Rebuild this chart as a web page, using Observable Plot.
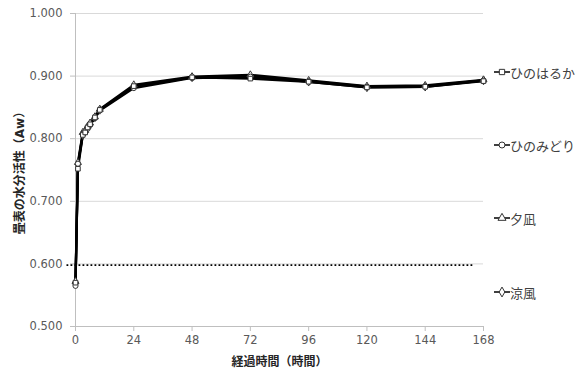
<!DOCTYPE html>
<html>
<head>
<meta charset="utf-8">
<script src="https://cdn.jsdelivr.net/npm/d3@7"></script>
<script src="https://cdn.jsdelivr.net/npm/@observablehq/plot@0.6"></script>
<style>
  body { margin: 0; background: #fff; }
  #wrap { position: relative; width: 576px; height: 374px; font-family: "DejaVu Sans", "Noto Sans CJK JP", sans-serif; }
  #wrap svg.plot [aria-label="y-axis label"], #wrap svg.plot [aria-label="x-axis label"] { font-weight: bold; fill: #262626; font-size: 12px; }
  #legend { position: absolute; left: 494px; top: 0; }
  .item { position: absolute; left: 0; display: flex; align-items: center; white-space: nowrap;
          font-family: "Noto Sans CJK JP", sans-serif; font-size: 13px; color: #404040; }
</style>
</head>
<body>
<div id="wrap"></div>
<script>
// Elapsed time (hours) at which water activity was measured
const hours = [0, 1, 3, 4, 5, 6, 8, 10, 24, 48, 72, 96, 120, 144, 168];

// Surface water activity (Aw) of tatami mats, by rush variety
const varieties = ["ひのはるか", "ひのみどり", "夕凪", "涼風"];
const hinoharuka = [0.570, 0.752, 0.806, 0.810, 0.818, 0.823, 0.834, 0.846, 0.884, 0.898, 0.896, 0.891, 0.882, 0.883, 0.892];
const hinomidori = [0.565, 0.760, 0.808, 0.812, 0.816, 0.822, 0.833, 0.845, 0.881, 0.897, 0.899, 0.892, 0.883, 0.884, 0.893];
const yunagi     = [0.572, 0.762, 0.810, 0.813, 0.820, 0.825, 0.835, 0.847, 0.886, 0.899, 0.902, 0.893, 0.884, 0.885, 0.894];
const suzukaze   = [0.568, 0.758, 0.806, 0.811, 0.817, 0.823, 0.834, 0.846, 0.883, 0.898, 0.900, 0.891, 0.882, 0.883, 0.893];
const series = [hinoharuka, hinomidori, yunagi, suzukaze];

// Reference level (dotted) and its horizontal extent in hours
const threshold = [0.598];
const thresholdSpan = [-3.5, 164];

const xTicks = [0, 24, 48, 72, 96, 120, 144, 168];
const yTicks = [0.5, 0.6, 0.7, 0.8, 0.9, 1.0];

const symbols = ["square", "circle", "triangle", "diamond"];
const d3Symbols = [d3.symbolSquare, d3.symbolCircle, d3.symbolTriangle, d3.symbolDiamond];

const rows = varieties.flatMap((v, i) => hours.map((h, j) => ({variety: v, hour: h, aw: series[i][j]})));
const byVariety = v => rows.filter(d => d.variety === v);

const chart = Plot.plot({
  width: 576,
  height: 374,
  marginLeft: 75,
  marginRight: 93,
  marginTop: 13,
  marginBottom: 48,
  style: {fontFamily: '"DejaVu Sans", "Noto Sans CJK JP", sans-serif', fontSize: "11.5px", color: "#595959", background: "white"},
  x: {domain: [0, 168]},
  y: {domain: [0.5, 1.0]},
  symbol: {domain: varieties, range: symbols},
  marks: [
    Plot.gridY(yTicks.slice(1), {stroke: "#d9d9d9", strokeOpacity: 1}),
    Plot.ruleX([0], {stroke: "#bfbfbf"}),
    Plot.ruleY([0.5], {stroke: "#bfbfbf"}),
    Plot.axisY({ticks: yTicks, tickFormat: ".3f", tickSize: 5, tickPadding: 8, stroke: "#bfbfbf",
                label: "畳表の水分活性（Aw）", labelAnchor: "center", labelArrow: "none", labelOffset: 60}),
    Plot.axisX({ticks: xTicks, tickFormat: d => d, tickSize: 5, tickPadding: 4, stroke: "#bfbfbf",
                label: "経過時間（時間）", labelAnchor: "center", labelArrow: "none", labelOffset: 39}),
    Plot.ruleY(threshold, {x1: thresholdSpan[0], x2: thresholdSpan[1], stroke: "black", strokeWidth: 1.8, strokeDasharray: "1.8,2.2", clip: false}),
    ...varieties.map(v =>
      Plot.line(byVariety(v), {x: "hour", y: "aw", stroke: "black", strokeWidth: 2.3})),
    ...varieties.slice().reverse().map(v =>
      Plot.dot(byVariety(v), {x: "hour", y: "aw", symbol: "variety", r: 2.6, fill: "white", stroke: "#333", strokeWidth: 1}))
  ]
});
chart.classList.add("plot");
const wrap = document.getElementById("wrap");
wrap.appendChild(chart);

// Legend down the right-hand side, one entry per variety
const legend = document.createElement("div");
legend.id = "legend";
const legendTops = [72, 145, 218, 292];
varieties.forEach((v, i) => {
  const item = document.createElement("div");
  item.className = "item";
  item.style.top = (legendTops[i] - 10) + "px";
  const path = d3.symbol(d3Symbols[i], 28)();
  item.innerHTML = `<svg width="16" height="20" viewBox="-8 -10 16 20">
      <line x1="-8" x2="8" y1="0" y2="0" stroke="black" stroke-width="1.5"/>
      <path d="${path}" fill="white" stroke="#333" stroke-width="1"/></svg><span>${v}</span>`;
  legend.appendChild(item);
});
wrap.appendChild(legend);
</script>
</body>
</html>
